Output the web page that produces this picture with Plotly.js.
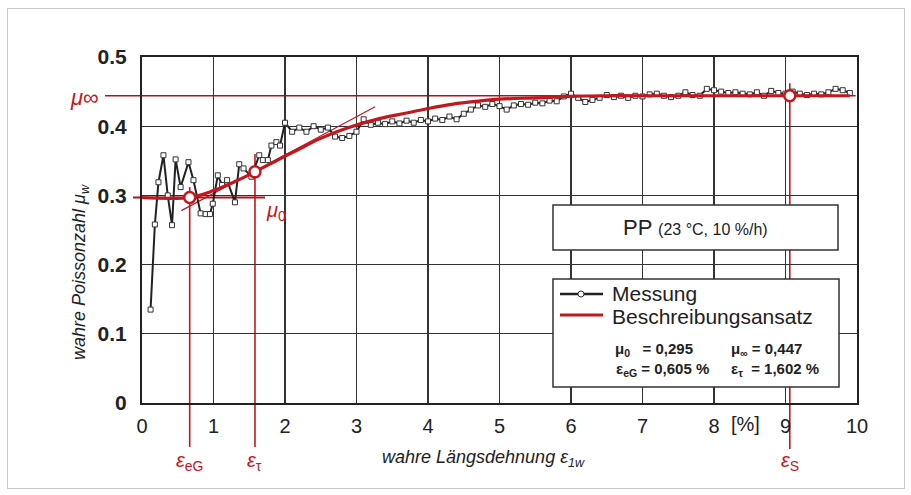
<!DOCTYPE html>
<html>
<head>
<meta charset="utf-8">
<script src="https://cdn.plot.ly/plotly-3.0.1.min.js"></script>
<style>
  html,body{margin:0;padding:0;background:#fff;}
  #chart{width:911px;height:495px;position:absolute;left:0;top:0;}
  #frame{position:absolute;left:7px;top:8px;width:896px;height:479px;border:1px solid #c8c8c8;pointer-events:none;}
</style>
</head>
<body>
<div id="chart"></div>
<div id="frame"></div>
<script>
// ---------------- data ----------------
const measX = [0.12,0.18,0.23,0.30,0.36,0.42,0.47,0.54,0.65,0.72,0.82,0.89,0.95,0.99,1.06,1.12,1.19,1.30,1.36,1.42,1.53,1.64,1.69,1.76,1.81,1.88,1.93,
  2.0,2.1,2.2,2.3,2.4,2.5,2.6,2.7,2.8,2.9,3.0,3.1,3.2,3.3,3.4,3.5,3.6,3.7,3.8,3.9,4.0,4.1,4.2,4.3,4.4,4.5,4.6,4.7,4.8,4.9,
  5.0,5.1,5.2,5.3,5.4,5.5,5.6,5.7,5.8,5.9,6.0,6.1,6.2,6.3,6.4,6.5,6.6,6.7,6.8,6.9,7.0,7.1,7.2,7.3,7.4,7.5,7.6,7.7,7.8,7.9,
  8.0,8.1,8.2,8.3,8.4,8.5,8.6,8.7,8.8,8.9,9.0,9.1,9.2,9.3,9.4,9.5,9.6,9.7,9.8,9.9];
const measY = [0.135,0.258,0.319,0.358,0.300,0.257,0.352,0.312,0.348,0.322,0.274,0.273,0.273,0.288,0.329,0.315,0.322,0.290,0.345,0.339,0.327,0.358,0.351,0.351,0.372,0.377,0.372,
  0.405,0.392,0.398,0.392,0.400,0.395,0.398,0.385,0.383,0.386,0.392,0.410,0.402,0.405,0.403,0.407,0.404,0.408,0.405,0.409,0.407,0.411,0.409,0.414,0.410,0.418,0.424,0.430,0.428,0.432,
  0.429,0.424,0.430,0.432,0.431,0.434,0.433,0.437,0.436,0.443,0.447,0.441,0.435,0.438,0.441,0.445,0.442,0.444,0.441,0.444,0.443,0.446,0.447,0.444,0.442,0.444,0.449,0.445,0.444,0.454,
  0.452,0.450,0.448,0.449,0.447,0.446,0.449,0.444,0.451,0.448,0.447,0.450,0.447,0.445,0.447,0.446,0.449,0.454,0.452,0.448];

const fitX = [0, 0.667, 1.0, 1.3, 1.58, 1.93, 2.2, 2.49, 2.86, 3.32, 3.7, 4.02, 4.35, 4.68, 5.0, 5.5, 5.98, 6.5, 7.0, 8.0, 9.0, 9.9];
const fitY = [0.297, 0.297, 0.307, 0.320, 0.334, 0.353, 0.367, 0.382, 0.397, 0.411, 0.419, 0.426, 0.432, 0.436, 0.439, 0.441, 0.443, 0.444, 0.444, 0.444, 0.444, 0.444];

const tangentX = [0.55, 3.26];
const tangentY = [0.278, 0.428];

// characteristic points: eps_eG, eps_tau, eps_S
const keyX = [0.667, 1.58, 9.06];
const keyY = [0.297, 0.334, 0.444];
const mu0Level = 0.297;
const muInfLevel = 0.444;

const xTicks = [0,1,2,3,4,5,6,7,8,9,10];
const yTicks = [0,0.1,0.2,0.3,0.4,0.5];
const yTickText = ['0','0.1','0.2','0.3','0.4','0.5'];

const legendNames = ['Messung','Beschreibungsansatz'];
const paramText = ['μ<sub>0</sub>   = 0,295', 'μ<sub>∞</sub> = 0,447', 'ε<sub>eG</sub> = 0,605 %', 'ε<sub>τ</sub>  = 1,602 %'];

// ---------------- layout helpers ----------------
const L = 142, T = 57, PW = 715, PH = 346;
const XMAX = 10, YMAX = 0.5;
const px = p => (p - L) / PW;           // pixel x -> paper
const py = p => (T + PH - p) / PH;      // pixel y -> paper
const dx = v => v / XMAX;               // data x -> paper
const dy = v => v / YMAX;               // data y -> paper

const RED = '#c4161c';
const DRED = '#b0141a';
const INK = '#222';
const FONT = 'Liberation Sans, Arial, sans-serif';
const NARROW = 'Liberation Sans Narrow, Arial Narrow, Liberation Sans, Arial, sans-serif';

const traces = [
  {x: tangentX, y: tangentY, mode: 'lines', line: {color: RED, width: 1.2}, showlegend: false, hoverinfo: 'skip'},
  {x: measX, y: measY, mode: 'lines+markers', name: legendNames[0],
   line: {color: INK, width: 2},
   marker: {symbol: 'square', size: 5, color: '#fff', line: {color: '#333', width: 1}},
   showlegend: false},
  {x: fitX, y: fitY, mode: 'lines', name: legendNames[1], line: {color: RED, width: 3.2, shape: 'spline'}, showlegend: false},
  {x: keyX, y: keyY, mode: 'markers', marker: {symbol: 'circle', size: 11, color: '#fff', line: {color: RED, width: 2.5}},
   cliponaxis: false, showlegend: false, hoverinfo: 'skip'}
];

const shapes = [
  {type: 'line', xref: 'paper', yref: 'paper', x0: px(105), x1: dx(9.98), y0: dy(muInfLevel), y1: dy(muInfLevel), line: {color: DRED, width: 1.6}, layer: 'below'},
  {type: 'line', xref: 'paper', yref: 'paper', x0: px(133), x1: px(265), y0: dy(mu0Level), y1: dy(mu0Level), line: {color: DRED, width: 2}, layer: 'below'},
  {type: 'line', xref: 'paper', yref: 'paper', x0: dx(keyX[0]), x1: dx(keyX[0]), y0: dy(0.312), y1: py(447), line: {color: RED, width: 1.6}, layer: 'below'},
  {type: 'line', xref: 'paper', yref: 'paper', x0: dx(keyX[1]), x1: dx(keyX[1]), y0: dy(0.36), y1: py(447), line: {color: RED, width: 1.6}, layer: 'below'},
  {type: 'line', xref: 'paper', yref: 'paper', x0: dx(keyX[2]), x1: dx(keyX[2]), y0: dy(0.462), y1: py(449), line: {color: RED, width: 1.6}, layer: 'below'},
  {type: 'rect', xref: 'paper', yref: 'paper', x0: px(553), x1: px(838), y0: py(205), y1: py(250), fillcolor: '#fff', line: {color: '#333', width: 1.5}, layer: 'above'},
  {type: 'rect', xref: 'paper', yref: 'paper', x0: px(553), x1: px(839), y0: py(279), y1: py(387), fillcolor: '#fff', line: {color: '#333', width: 1.5}, layer: 'above'},
  {type: 'line', xref: 'paper', yref: 'paper', x0: px(560), x1: px(603), y0: py(294), y1: py(294), line: {color: INK, width: 2.5}, layer: 'above'},
  {type: 'circle', xref: 'paper', yref: 'paper', x0: px(578), x1: px(584), y0: py(291), y1: py(297), fillcolor: '#fff', line: {color: '#333', width: 1}, layer: 'above'},
  {type: 'line', xref: 'paper', yref: 'paper', x0: px(560), x1: px(603), y0: py(315), y1: py(315), line: {color: RED, width: 3}, layer: 'above'}
];

const ann = (x, y, text, size, color, opts) => Object.assign({
  xref: 'paper', yref: 'paper', x: x, y: y, text: text, showarrow: false,
  font: {family: FONT, size: size, color: color}, xanchor: 'center', yanchor: 'middle'
}, opts || {});

const annotations = [
  ann(px(84), py(97), '<i>μ</i>∞', 22, RED),
  ann(px(276), py(211), '<i>μ</i><sub>0</sub>', 20, RED),
  ann(dx(keyX[0]), py(461), '<i>ε</i><sub>eG</sub>', 20, RED),
  ann(dx(keyX[1]), py(461), '<i>ε</i><sub>τ</sub>', 20, RED),
  ann(dx(keyX[2]), py(461), '<i>ε</i><sub>S</sub>', 20, RED),
  ann(px(483), py(458), '<i>wahre Längsdehnung ε<sub>1w</sub></i>', 18, INK),
  ann(px(80), py(272), '<i>wahre Poissonzahl μ<sub>w</sub></i>', 18, INK, {textangle: -90}),
  ann(px(745), py(424), '[%]', 19, INK, {font: {family: NARROW, size: 20, color: INK}}),
  ann(px(695), py(228), 'PP <span style="font-size:16px">(23 °C, 10 %/h)</span>', 22, INK),
  ann(px(610), py(293), legendNames[0], 21, INK, {xanchor: 'left'}),
  ann(px(610), py(316), legendNames[1], 21, INK, {xanchor: 'left'}),
  ann(px(613), py(349), '<b>' + paramText[0] + '</b>', 15, INK, {xanchor: 'left'}),
  ann(px(729), py(349), '<b>' + paramText[1] + '</b>', 15, INK, {xanchor: 'left'}),
  ann(px(614), py(369), '<b>' + paramText[2] + '</b>', 15, INK, {xanchor: 'left'}),
  ann(px(729), py(369), '<b>' + paramText[3] + '</b>', 15, INK, {xanchor: 'left'})
];

const layout = {
  width: 911, height: 495,
  margin: {l: L, r: 911 - L - PW, t: T, b: 495 - T - PH},
  paper_bgcolor: '#fff', plot_bgcolor: 'rgba(0,0,0,0)',
  showlegend: false,
  xaxis: {range: [0, XMAX], tickvals: xTicks, ticks: '', showgrid: true, gridcolor: '#333', gridwidth: 1.4,
          zeroline: false, showline: true, mirror: true, linecolor: '#222', linewidth: 2,
          tickfont: {family: NARROW, size: 20, color: INK}, ticklabelstandoff: 4, fixedrange: true},
  yaxis: {range: [0, YMAX], tickvals: yTicks, ticktext: yTickText, ticks: '', showgrid: true, gridcolor: '#333', gridwidth: 1.4,
          zeroline: false, showline: true, mirror: true, linecolor: '#222', linewidth: 2,
          tickfont: {family: FONT, size: 21, color: INK, weight: 700}, ticklabelstandoff: 9, fixedrange: true},
  shapes: shapes,
  annotations: annotations
};

Plotly.newPlot('chart', traces, layout, {displayModeBar: false, staticPlot: true});
</script>
</body>
</html>
